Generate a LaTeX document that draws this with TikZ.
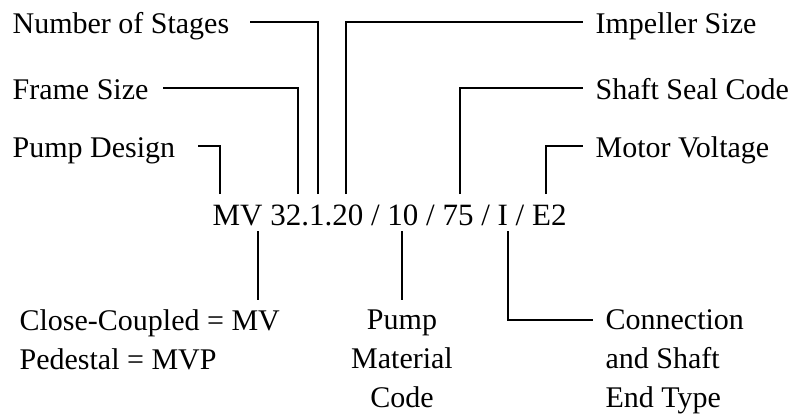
\documentclass[tikz,border=0pt]{standalone}
\usepackage{fontspec}
\setmainfont{Liberation Serif}
\usepackage{tikz}

\begin{document}
\begin{tikzpicture}[x=1pt, y=-1pt, line width=1.2pt,
    tag/.style={inner sep=0pt, font=\fontsize{30}{39}\selectfont, text height=22pt, text depth=0pt},
    note/.style={inner sep=0pt, font=\fontsize{30}{39}\selectfont}]
    \useasboundingbox (0,0) rectangle (795,415);

    % model code
    \node[inner sep=0pt, font=\fontsize{31}{37}\selectfont, anchor=base west] (code) at (212,225) {MV 32.1.20 / 10 / 75 / I / E2};

    % upper labels
    \node[tag, anchor=west] (stages)   at (12,22)   {Number of Stages};
    \node[tag, anchor=west] (frame)    at (12,88)   {Frame Size};
    \node[tag, anchor=west] (design)   at (12,146)  {Pump Design};
    \node[tag, anchor=west] (impeller) at (595,22)  {Impeller Size};
    \node[tag, anchor=west] (seal)     at (595,88)  {Shaft Seal Code};
    \node[tag, anchor=west] (voltage)  at (595,146) {Motor Voltage};

    % lower labels
    \node[note, align=left, anchor=north west]   (mount)    at (19,309)  {Close-Coupled = MV\\Pedestal = MVP};
    \node[note, align=center, anchor=north]      (material) at (402,309) {Pump\\Material\\Code};
    \node[note, align=left, anchor=north west]   (conn)     at (605,309) {Connection\\and Shaft\\End Type};

    % points on the code
    \coordinate (t-design)   at (220,194);
    \coordinate (t-frame)    at (298,194);
    \coordinate (t-stages)   at (318,194);
    \coordinate (t-impeller) at (346,194);
    \coordinate (t-seal)     at (460,194);
    \coordinate (t-voltage)  at (546,194);
    \coordinate (b-mount)    at (258,231);
    \coordinate (b-material) at (402,231);
    \coordinate (b-conn)     at (508,231);

    \draw (t-stages)   |- ([xshift=20pt]stages.east);
    \draw (t-frame)    |- ([xshift=14pt]frame.east);
    \draw (t-design)   |- ([xshift=22pt]design.east);
    \draw (t-impeller) |- ([xshift=-12pt]impeller.west);
    \draw (t-seal)     |- ([xshift=-12pt]seal.west);
    \draw (t-voltage)  |- ([xshift=-12pt]voltage.west);

    \draw[shorten >=9pt] (b-mount) -- (b-mount |- mount.north);
    \draw[shorten >=9pt] (b-material) -- (material.north);
    \draw (b-conn) |- ([xshift=-12pt,yshift=-11pt]conn.north west);
\end{tikzpicture}
\end{document}
